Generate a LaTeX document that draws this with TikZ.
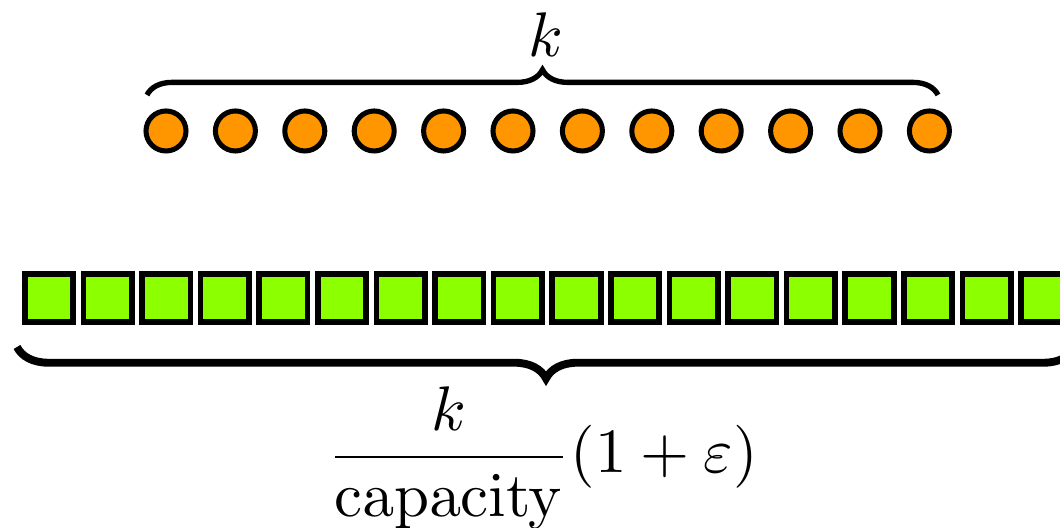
\documentclass[tikz,border=0pt]{standalone}
\usetikzlibrary{decorations.pathreplacing}
\definecolor{dotorange}{RGB}{255,150,0}
\definecolor{boxgreen}{RGB}{140,255,0}
\begin{document}
\begin{tikzpicture}[x=0.1587pt, y=-0.1587pt,
  dot/.style={circle, draw=black, fill=dotorange, line width=0.8pt, minimum size=6.35pt, inner sep=0pt},
  cell/.style={rectangle, draw=black, fill=boxgreen, line width=0.9pt, minimum size=7.7pt, inner sep=0pt},
  bracetop/.style={decorate, decoration={brace, amplitude=4pt}, line width=0.85pt},
  bracebot/.style={decorate, decoration={brace, amplitude=5pt}, line width=1.25pt},
  lbl/.style={anchor=base, inner sep=0pt}]
\useasboundingbox (0,0) rectangle (1060,528);
\clip (0,0) rectangle (1060,528);
\foreach \i in {0,...,11} \node[dot] (c\i) at ({166+69.4*\i},131) {};
\foreach \i in {0,...,17} \node[cell] (s\i) at ({49+58.6*\i},298) {};
\coordinate (tl) at (147,95);
\coordinate (tr) at (938,95);
\coordinate (bl) at (17,347);
\coordinate (br) at (1075,347);
\draw[bracetop] (tl) -- (tr);
\draw[bracebot] (br) -- (bl);
\node[lbl] (ktop) at (546,57) {$k$};
\node[lbl] (kbot) at (542.5,473) {$\displaystyle\frac{k}{\mathrm{capacity}}(1+\varepsilon)$};
\end{tikzpicture}
\end{document}
